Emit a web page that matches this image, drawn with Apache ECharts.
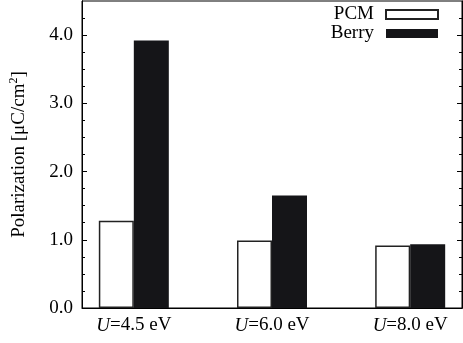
<!DOCTYPE html>
<html>
<head>
<meta charset="utf-8">
<script src="https://cdn.jsdelivr.net/npm/echarts@6/dist/echarts.min.js"></script>
<style>html,body{margin:0;padding:0;background:#fff}#c{width:463px;height:343px}</style>
</head>
<body>
<div id="c"></div>
<script>
const categories = ['U=4.5 eV', 'U=6.0 eV', 'U=8.0 eV'];
const pcmValues = [1.28, 0.99, 0.915];
const berryValues = [3.92, 1.65, 0.935];
const yTickLabels = ['0.0', '1.0', '2.0', '3.0', '4.0'];
const yMajor = [0, 1, 2, 3, 4];
const yMinor = [0.25,0.5,0.75,1.25,1.5,1.75,2.25,2.5,2.75,3.25,3.5,3.75,4.25];

const FONT = 'Liberation Serif';
const positions = categories.map((c, i) => i + 1);
const pcmData = pcmValues.map((v, i) => [positions[i], v]);
const berryData = berryValues.map((v, i) => [positions[i], v]);

function yAxisDef(pos, ticks, len, showLabel) {
  return {
    type: 'value', position: pos, min: 0, max: 4.5, interval: 1,
    axisLine: {show: true, lineStyle: {color: '#000', width: 1}},
    axisTick: {show: true, inside: true, length: len, customValues: ticks, lineStyle: {color: '#000', width: 1}},
    axisLabel: showLabel ? {
      show: true, customValues: yMajor, margin: 9,
      fontFamily: FONT, fontSize: 19, color: '#000',
      formatter: v => yTickLabels[yMajor.indexOf(v)] || ''
    } : {show: false},
    splitLine: {show: false},
    name: showLabel ? 'Polarization [μC/cm{s|2}]' : '',
    nameLocation: 'middle', nameGap: 52, nameRotate: 90,
    nameTextStyle: {fontFamily: FONT, fontSize: 19, color: '#000',
      rich: {s: {fontFamily: FONT, fontSize: 12, verticalAlign: 'top', padding: [0,0,10,0]}}}
  };
}

const chart = echarts.init(document.getElementById('c'), null, {renderer: 'canvas'});
chart.setOption({
  animation: false,
  backgroundColor: '#fff',
  grid: {left: 82, right: 1, top: 1, bottom: 35, show: true, borderColor: '#000', borderWidth: 1},
  legend: {
    orient: 'vertical', right: 19, top: 0, align: 'right',
    itemWidth: 52, itemHeight: 9, itemGap: 0,
    icon: 'rect',
    textStyle: {fontFamily: FONT, fontSize: 19, color: '#000', padding: [0, 7, 0, 0]},
    data: ['PCM', 'Berry']
  },
  xAxis: {
    type: 'value', min: 0.625, max: 3.375,
    axisLine: {show: true, lineStyle: {color: '#000'}},
    axisTick: {show: false},
    splitLine: {show: false},
    axisLabel: {
      show: true, customValues: positions, margin: 8,
      fontFamily: FONT, fontSize: 19, color: '#000',
      formatter: v => {
        const t = categories[positions.indexOf(v)] || '';
        return t.replace(/^U/, '{i|U}');
      },
      rich: {i: {fontFamily: FONT, fontSize: 19, fontStyle: 'italic', color: '#000'}}
    }
  },
  yAxis: [
    yAxisDef('left', yMajor, 5, true),
    yAxisDef('left', yMinor, 3, false),
    yAxisDef('right', yMajor, 5, false),
    yAxisDef('right', yMinor, 3, false)
  ],
  series: [
    {name: 'PCM', type: 'bar', data: pcmData, barWidth: 35, barGap: '0%',
     itemStyle: {color: '#fff', borderColor: '#222', borderWidth: 1.5}},
    {name: 'Berry', type: 'bar', data: berryData, barWidth: 35, barGap: '0%',
     itemStyle: {color: '#151518', borderColor: '#151518', borderWidth: 0}}
  ]
});
</script>
</body>
</html>
